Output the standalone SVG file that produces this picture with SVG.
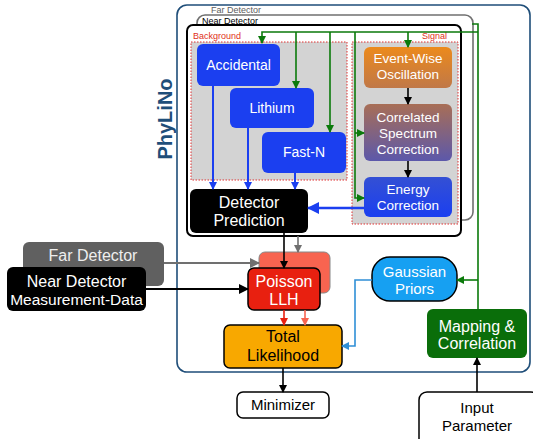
<svg xmlns="http://www.w3.org/2000/svg" width="533" height="439" viewBox="0 0 533 439">
<defs>
<style>
text{font-family:"Liberation Sans",Arial,sans-serif;text-anchor:middle}
.w{fill:#ffffff}
.k{fill:#000000}
.n14{font-size:14px}
.n135{font-size:13.5px}
.n15{font-size:15px}
.n16{font-size:16px}
.blue{fill:#1b3ff0}
.g{stroke:#0b7a0b;stroke-width:1.6;fill:none}
.bl{stroke:#1b3ff0;stroke-width:2;fill:none}
</style>
<linearGradient id="gOsc" x1="0" y1="0" x2="0" y2="1"><stop offset="0" stop-color="#ec8a1c"/><stop offset="1" stop-color="#c07848"/></linearGradient>
<linearGradient id="gCor" x1="0" y1="0" x2="0" y2="1"><stop offset="0" stop-color="#a86e56"/><stop offset="1" stop-color="#5c58aa"/></linearGradient>
<linearGradient id="gEn" x1="0" y1="0" x2="0" y2="1"><stop offset="0" stop-color="#3450d4"/><stop offset="1" stop-color="#1b3ff0"/></linearGradient>
<marker id="aG" markerWidth="8" markerHeight="8" refX="7" refY="4" orient="auto" markerUnits="userSpaceOnUse"><path d="M0,0 L8,4 L0,8 z" fill="#0b7a0b"/></marker>
<marker id="aB" markerWidth="8" markerHeight="8" refX="7" refY="4" orient="auto" markerUnits="userSpaceOnUse"><path d="M0,0 L8,4 L0,8 z" fill="#1b3ff0"/></marker>
<marker id="aBL" markerWidth="12" markerHeight="12" refX="11" refY="6" orient="auto" markerUnits="userSpaceOnUse"><path d="M0,0 L12,6 L0,12 z" fill="#1b3ff0"/></marker>
<marker id="aK" markerWidth="8" markerHeight="8" refX="7" refY="4" orient="auto" markerUnits="userSpaceOnUse"><path d="M0,0 L8,4 L0,8 z" fill="#000"/></marker>
<marker id="aKL" markerWidth="10" markerHeight="10" refX="9" refY="5" orient="auto" markerUnits="userSpaceOnUse"><path d="M0,0 L10,5 L0,10 z" fill="#000"/></marker>
<marker id="aGr" markerWidth="10" markerHeight="10" refX="9" refY="5" orient="auto" markerUnits="userSpaceOnUse"><path d="M0,0 L10,5 L0,10 z" fill="#707070"/></marker>
<marker id="aGs" markerWidth="8" markerHeight="8" refX="7" refY="4" orient="auto" markerUnits="userSpaceOnUse"><path d="M0,0 L8,4 L0,8 z" fill="#707070"/></marker>
<marker id="aR" markerWidth="8" markerHeight="8" refX="7" refY="4" orient="auto" markerUnits="userSpaceOnUse"><path d="M0,0 L8,4 L0,8 z" fill="#e82010"/></marker>
<marker id="aS" markerWidth="8" markerHeight="8" refX="7" refY="4" orient="auto" markerUnits="userSpaceOnUse"><path d="M0,0 L8,4 L0,8 z" fill="#f86450"/></marker>
<marker id="aLB" markerWidth="8" markerHeight="8" refX="7" refY="4" orient="auto" markerUnits="userSpaceOnUse"><path d="M0,0 L8,4 L0,8 z" fill="#2f8fd6"/></marker>
</defs>
<rect width="533" height="439" fill="#ffffff"/>

<g id="phylino">
<rect x="177" y="5" width="353" height="367" rx="10" fill="none" stroke="#1f4e79" stroke-width="1.6"/>
<text transform="translate(172,119) rotate(-90)" font-size="20" font-weight="bold" fill="#1f4e79">PhyLiNo</text>
</g>

<g id="far-detector-frame">
<rect x="197" y="15" width="276" height="205" rx="8" fill="none" stroke="#707070" stroke-width="1.6"/>
<text x="236" y="13" font-size="9" fill="#606060">Far Detector</text>
</g>

<g id="near-detector-frame">
<rect x="187" y="25" width="274" height="211" rx="6" fill="#ffffff" stroke="#000" stroke-width="2"/>
<text x="230" y="24" font-size="9" fill="#000">Near Detector</text>
</g>

<g id="background-region">
<rect x="191" y="42" width="156" height="138" fill="#d3d3d3" stroke="#e03030" stroke-width="1" stroke-dasharray="1.5,1.5"/>
<text x="193" y="39" font-size="9" fill="#e03020" style="text-anchor:start">Background</text>
</g>

<g id="signal-region">
<rect x="352" y="42" width="106" height="182" fill="#d3d3d3" stroke="#e03030" stroke-width="1" stroke-dasharray="1.5,1.5"/>
<text x="447" y="39" font-size="9" fill="#e03020" style="text-anchor:end">Signal</text>
</g>

<g id="accidental">
<rect x="197" y="44" width="83" height="42" rx="6" class="blue"/>
<text x="238.5" y="70" class="w n14">Accidental</text>
</g>
<g id="lithium">
<rect x="230" y="88" width="84" height="40" rx="6" class="blue"/>
<text x="272" y="113" class="w n14">Lithium</text>
</g>
<g id="fast-n">
<rect x="262" y="132" width="84" height="41" rx="6" class="blue"/>
<text x="304" y="157" class="w n14">Fast-N</text>
</g>
<g id="detector-prediction">
<rect x="190" y="189" width="118" height="44" rx="6" fill="#000"/>
<text x="249" y="208" class="w n16">Detector</text>
<text x="249" y="226" class="w n16">Prediction</text>
</g>
<g id="event-wise-oscillation">
<rect x="364" y="47" width="88" height="41" rx="6" fill="url(#gOsc)"/>
<text x="408" y="63" class="w n135">Event-Wise</text>
<text x="408" y="79" class="w n135">Oscillation</text>
</g>
<g id="correlated-spectrum-correction">
<rect x="364" y="104" width="88" height="57" rx="6" fill="url(#gCor)"/>
<text x="408" y="122" class="w n135">Correlated</text>
<text x="408" y="138" class="w n135">Spectrum</text>
<text x="408" y="154" class="w n135">Correction</text>
</g>
<g id="energy-correction">
<rect x="364" y="177" width="88" height="40" rx="6" fill="url(#gEn)"/>
<text x="408" y="194" class="w n135">Energy</text>
<text x="408" y="210" class="w n135">Correction</text>
</g>

<g id="far-detector-data">
<rect x="23" y="242" width="141" height="44" rx="6" fill="#606060"/>
<text x="93" y="261" class="n16" fill="#eeeeee">Far Detector</text>
</g>
<g id="near-detector-data">
<rect x="7" y="267" width="139" height="44" rx="6" fill="#000"/>
<text x="76.5" y="287" class="w n16">Near Detector</text>
<text x="76.5" y="305" class="w" font-size="15.5">Measurement-Data</text>
</g>
<g id="far-llh">
<rect x="259" y="252" width="71" height="41" rx="6" fill="#f86450" stroke="#888" stroke-width="1"/>
</g>
<g id="poisson-llh">
<rect x="248" y="268" width="72" height="42" rx="6" fill="#e82010" stroke="#000" stroke-width="1.5"/>
<text x="284" y="287" class="w n16">Poisson</text>
<text x="284" y="305" class="w n16">LLH</text>
</g>
<g id="total-likelihood">
<rect x="224" y="325" width="118" height="43" rx="6" fill="#f8a800" stroke="#000" stroke-width="1.5"/>
<text x="283" y="342" class="k n16">Total</text>
<text x="283" y="361" class="k n16">Likelihood</text>
</g>
<g id="gaussian-priors">
<rect x="372" y="257" width="85" height="44" rx="18" fill="#16a0f2" stroke="#000" stroke-width="1.5"/>
<text x="414.5" y="277" class="w n15">Gaussian</text>
<text x="414.5" y="294" class="w n15">Priors</text>
</g>
<g id="mapping-correlation">
<rect x="427" y="309" width="100" height="49" rx="6" fill="#0a6e0a"/>
<text x="477" y="332" class="w n16">Mapping &amp;</text>
<text x="477" y="349" class="w n16">Correlation</text>
</g>
<g id="minimizer">
<rect x="237" y="392" width="92" height="26" rx="6" fill="#fff" stroke="#000" stroke-width="1.5"/>
<text x="283" y="410" class="k n15">Minimizer</text>
</g>
<g id="input-parameter">
<rect x="419" y="392" width="120" height="60" rx="8" fill="#fff" stroke="#000" stroke-width="1.5"/>
<text x="477" y="413" class="k n15">Input</text>
<text x="477" y="431" class="k n15">Parameter</text>
</g>

<g id="connectors">
<path class="g" d="M478,309 V24 H472"/>
<path class="g" d="M478,32 H262 V43" marker-end="url(#aG)"/>
<path class="g" d="M296,32 V88" marker-end="url(#aG)"/>
<path class="g" d="M330,32 V132" marker-end="url(#aG)"/>
<path class="g" d="M408,32 V47" marker-end="url(#aG)"/>
<path class="g" d="M355,32 V198 H364" marker-end="url(#aG)"/>
<path class="g" d="M355,133 H364" marker-end="url(#aG)"/>
<path class="g" d="M478,280 H457" marker-end="url(#aG)"/>
<path stroke="#000" stroke-width="1.6" d="M408,88 V104" marker-end="url(#aK)"/>
<path stroke="#000" stroke-width="1.6" d="M408,161 V177" marker-end="url(#aK)"/>
<path class="bl" d="M213,86 V189" marker-end="url(#aB)"/>
<path class="bl" d="M248,128 V189" marker-end="url(#aB)"/>
<path class="bl" d="M295,173 V189" marker-end="url(#aB)"/>
<path stroke="#1b3ff0" stroke-width="2.5" d="M364,208 H308" marker-end="url(#aBL)"/>
<path stroke="#000" stroke-width="1.6" d="M284,233 V268" marker-end="url(#aK)"/>
<path stroke="#707070" stroke-width="1.6" d="M298,236 V252" marker-end="url(#aGs)"/>
<path stroke="#707070" stroke-width="1.8" d="M164,263 H259" marker-end="url(#aGr)"/>
<path stroke="#000" stroke-width="1.8" d="M146,289 H248" marker-end="url(#aKL)"/>
<path stroke="#e82010" stroke-width="1.6" d="M284,310 V325" marker-end="url(#aR)"/>
<path stroke="#f86450" stroke-width="1.6" d="M305,310 V325" marker-end="url(#aS)"/>
<path stroke="#2f8fd6" stroke-width="1.6" fill="none" d="M372,280 H355 V346 H342" marker-end="url(#aLB)"/>
<path stroke="#000" stroke-width="1.6" d="M283,368 V392" marker-end="url(#aK)"/>
<path stroke="#000" stroke-width="1.6" d="M477,392 V358" marker-end="url(#aK)"/>
</g>
</svg>
